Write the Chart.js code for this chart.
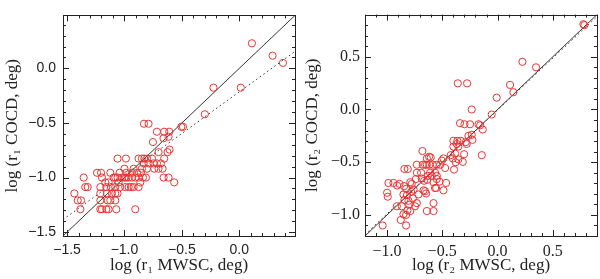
<!DOCTYPE html>
<html>
<head>
<meta charset="utf-8">
<script src="https://cdn.jsdelivr.net/npm/chart.js@4.4.1/dist/chart.umd.min.js"></script>
<style>
  html, body { margin: 0; padding: 0; background: #fff; }
  #wrap { position: relative; width: 600px; height: 279px; }
  .pane { position: absolute; top: 0; width: 300px; height: 279px; }
</style>
</head>
<body>
<div id="wrap">
  <div class="pane" style="left:0"><canvas id="c1" width="300" height="279"></canvas></div>
  <div class="pane" style="left:300px"><canvas id="c2" width="300" height="279"></canvas></div>
</div>
<script>
// ---------- data: left panel (r1) ----------
const r1MWSC = [0.11, 0.29, 0.38, -0.225, 0.013, -0.30, -0.83, -0.79, -0.505, -0.49, -0.717, -0.654, -0.61, -0.66, -0.616, -0.752,
  -0.607, -0.703, -0.625,
  -1.06, -0.987, -0.877, -0.848, -0.827, -0.804, -0.76, -0.654,
  -0.833, -0.79, -0.746, -0.717, -0.683,
  -1.0, -0.92, -0.848, -0.804, -0.74, -0.703, -0.668,
  -1.239, -1.204, -1.123, -1.042, -0.984, -0.935, -0.891, -0.857,
  -1.355, -1.196, -1.094, -1.08, -1.06, -1.022, -1.0, -0.984, -0.964, -0.935, -0.906, -0.877, -0.839, -0.813, -0.659, -0.616,
  -1.167, -1.138, -1.051, -0.862, -0.567,
  -1.341, -1.32, -1.21, -1.158, -1.117, -1.08, -1.036, -0.993, -0.964, -0.943, -0.92, -0.877,
  -1.436, -1.21, -1.152, -1.109, -1.08, -1.06,
  -1.407, -1.378, -1.21, -1.146, -1.123, -1.08,
  -1.384, -1.21, -1.196, -1.158, -1.138, -1.071, -0.906];
const r1COCD = [0.23, 0.116, 0.05, -0.177, -0.177, -0.42, -0.507, -0.507, -0.535, -0.535, -0.58, -0.58, -0.58, -0.64, -0.626, -0.675,
  -0.744, -0.767, -0.767,
  -0.826, -0.826, -0.826, -0.826, -0.826, -0.826, -0.826, -0.826,
  -0.87, -0.87, -0.87, -0.87, -0.87,
  -0.919, -0.919, -0.919, -0.919, -0.919, -0.919, -0.919,
  -0.956, -0.956, -0.956, -0.956, -0.956, -0.956, -0.956, -0.956,
  -1.0, -1.0, -1.0, -1.0, -1.0, -1.0, -1.0, -1.0, -1.0, -1.0, -1.0, -1.0, -1.0, -1.0, -1.0, -1.0,
  -1.044, -1.044, -1.044, -1.044, -1.044,
  -1.087, -1.087, -1.087, -1.087, -1.087, -1.087, -1.087, -1.087, -1.087, -1.087, -1.087, -1.087,
  -1.145, -1.145, -1.145, -1.145, -1.145, -1.145,
  -1.209, -1.209, -1.209, -1.209, -1.209, -1.209,
  -1.29, -1.29, -1.29, -1.29, -1.29, -1.29, -1.29];
const fit1 = [0.0, 1.0];        // solid: intercept, slope
const reg1 = [-0.215, 0.762];   // dotted: intercept, slope
const range1 = [-1.535, 0.485];
const ticks1 = [-1.5, -1.0, -0.5, 0.0];

// ---------- data: right panel (r2) ----------
const r2MWSC = [0.777, 0.786, 0.225, 0.348, -0.36, -0.276, 0.113, 0.143, -0.008, -0.234, -0.053, -0.34, -0.30, -0.249, -0.173, -0.158, -0.134, -0.264, -0.234, -0.228, -0.40, -0.364, -0.333, -0.288,
  -0.40, -0.37, -0.355, -0.28, -0.303, -0.385, -0.424, -0.355, -0.38, -0.405, -0.143, -0.394, -0.315, -0.49, -0.505, -0.475, -0.62, -0.605, -0.68, -0.64,
  -0.731, -0.677, -0.656, -0.64, -0.617, -0.587, -0.55, -0.52,
  -0.813, -0.843, -0.73, -0.692, -0.611, -0.566, -0.632, -0.596, -0.55, -0.74, -0.686, -0.665, -0.635, -0.55, -0.526, -0.58, -0.777, -0.79, -0.988, -0.943, -0.888, -0.91, -0.466, -0.566, -0.556, -0.49, -0.846, -0.828, -0.67, -0.656, -0.647, -0.783, -0.76, -1.0, -0.994, -0.852, -0.82, -0.716, -0.767, -0.843, -0.807, -0.731, -0.58, -0.912, -0.867, -0.80, -0.747, -0.64, -0.58, -0.79, -0.816, -0.828, -0.852, -0.876, -0.828, -1.04];
const r2COCD = [0.809, 0.80, 0.452, 0.40, 0.248, 0.248, 0.233, 0.164, 0.112, 0.0, -0.048, -0.13, -0.14, -0.14, -0.14, -0.15, -0.19, -0.25, -0.24, -0.288, -0.297, -0.297, -0.297, -0.31,
  -0.352, -0.327, -0.352, -0.327, -0.424, -0.418, -0.433, -0.473, -0.50, -0.464, -0.433, -0.57, -0.497, -0.464, -0.485, -0.555, -0.448, -0.455, -0.394, -0.464,
  -0.524, -0.524, -0.524, -0.524, -0.524, -0.524, -0.524, -0.524,
  -0.564, -0.564, -0.60, -0.60, -0.60, -0.60, -0.63, -0.63, -0.63, -0.66, -0.655, -0.676, -0.667, -0.66, -0.685, -0.69, -0.706, -0.69, -0.697, -0.697, -0.706, -0.721, -0.697, -0.745, -0.745, -0.767, -0.727, -0.752, -0.767, -0.775, -0.797, -0.782, -0.76, -0.79, -0.827, -0.806, -0.812, -0.806, -0.842, -0.857, -0.866, -0.888, -0.888, -0.918, -0.918, -0.903, -0.918, -0.963, -0.963, -0.963, -0.957, -1.0, -0.994, -1.048, -1.10, -1.10];
const fit2 = [0.0, 1.0];
const reg2 = [-0.005, 0.985];
const range2 = [-1.2, 0.9];
const ticks2 = [-1.0, -0.5, 0.0, 0.5];

// ---------- helpers ----------
const pts = (xs, ys) => xs.map((x, i) => ({ x: x, y: ys[i] }));
const lineThrough = (coef, range) => range.map(x => ({ x: x, y: coef[0] + coef[1] * x }));
const fmt = v => (v < 0 ? '\u2212' : '') + Math.abs(v).toFixed(1);

const frameTicks = {
  id: 'frameTicks',
  afterDatasetsDraw(chart, args, opts) {
    const { ctx, chartArea: a, scales } = chart;
    const xs = scales.x, ys = scales.y;
    ctx.save();
    ctx.strokeStyle = '#222';
    ctx.lineWidth = 1;
    ctx.strokeRect(Math.round(a.left) + 0.5, Math.round(a.top) + 0.5,
      Math.round(a.right) - Math.round(a.left), Math.round(a.bottom) - Math.round(a.top));
    ctx.beginPath();
    const major = opts.major, minor = opts.minor;
    const doX = (v, len) => {
      const p = Math.round(xs.getPixelForValue(v)) + 0.5;
      ctx.moveTo(p, a.bottom); ctx.lineTo(p, a.bottom - len);
      ctx.moveTo(p, a.top); ctx.lineTo(p, a.top + len);
    };
    const doY = (v, len) => {
      const p = Math.round(ys.getPixelForValue(v)) + 0.5;
      ctx.moveTo(a.left, p); ctx.lineTo(a.left + len, p);
      ctx.moveTo(a.right, p); ctx.lineTo(a.right - len, p);
    };
    const isMajor = (k) => Math.abs(k % 5) === 0;
    for (let k = Math.ceil(xs.min * 10); k <= Math.floor(xs.max * 10); k++) doX(k / 10, isMajor(k) ? major : minor);
    for (let k = Math.ceil(ys.min * 10); k <= Math.floor(ys.max * 10); k++) doY(k / 10, isMajor(k) ? major : minor);
    ctx.stroke();
    ctx.restore();
  }
};

function makeChart(id, xs, ys, fit, reg, range, tickVals, xTitle, yTitle, tickFont, axisW, padRight, yTickPad) {
  const red = 'rgb(234,52,52)';
  const titleFont = { family: 'Liberation Serif', size: 17 };
  return new Chart(document.getElementById(id), {
    type: 'scatter',
    data: {
      datasets: [
        { data: pts(xs, ys), showLine: false, pointStyle: 'circle', pointRadius: 3.6,
          pointBorderWidth: 1, borderColor: red, backgroundColor: 'rgba(0,0,0,0)', pointBorderColor: red, pointBackgroundColor: 'rgba(0,0,0,0)' },
        { type: 'line', data: lineThrough(fit, range), borderColor: '#333', borderWidth: 1, pointRadius: 0, fill: false },
        { type: 'line', data: lineThrough(reg, range), borderColor: '#333', borderWidth: 1, borderDash: [1.5, 3], pointRadius: 0, fill: false }
      ]
    },
    options: {
      responsive: false,
      animation: false,
      devicePixelRatio: 1,
      layout: { padding: { top: 5, right: padRight, bottom: 0, left: 0 }, autoPadding: false },
      plugins: { legend: { display: false }, tooltip: { enabled: false }, frameTicks: { major: 6, minor: 3 } },
      scales: {
        x: {
          type: 'linear', min: range[0], max: range[1],
          afterBuildTicks: s => { s.ticks = tickVals.map(v => ({ value: v })); },
          afterFit: s => { s.height = 43; },
          grid: { display: false, drawTicks: false },
          border: { display: false },
          ticks: { callback: v => fmt(v), font: tickFont, color: '#222', padding: 6, maxRotation: 0, autoSkip: false },
          title: { display: true, text: xTitle, font: titleFont, color: '#222', padding: { top: 0, bottom: 3 } }
        },
        y: {
          type: 'linear', min: range[0], max: range[1],
          afterBuildTicks: s => { s.ticks = tickVals.map(v => ({ value: v })); },
          afterFit: s => { s.width = axisW; },
          grid: { display: false, drawTicks: false },
          border: { display: false },
          ticks: { callback: v => fmt(v), font: tickFont, color: '#222', padding: yTickPad, autoSkip: false },
          title: { display: true, text: yTitle, font: titleFont, color: '#222', padding: { top: 2, bottom: 0 } }
        }
      }
    },
    plugins: [frameTicks]
  });
}

makeChart('c1', r1MWSC, r1COCD, fit1, reg1, range1, ticks1,
  'log (r\u2081 MWSC, deg)', 'log (r\u2081 COCD, deg)',
  { family: 'Liberation Sans', size: 14 }, 63, 5, 7);
makeChart('c2', r2MWSC, r2COCD, fit2, reg2, range2, ticks2,
  'log (r\u2082 MWSC, deg)', 'log (r\u2082 COCD, deg)',
  { family: 'Liberation Serif', size: 16 }, 65, 3, 5);
</script>
</body>
</html>
